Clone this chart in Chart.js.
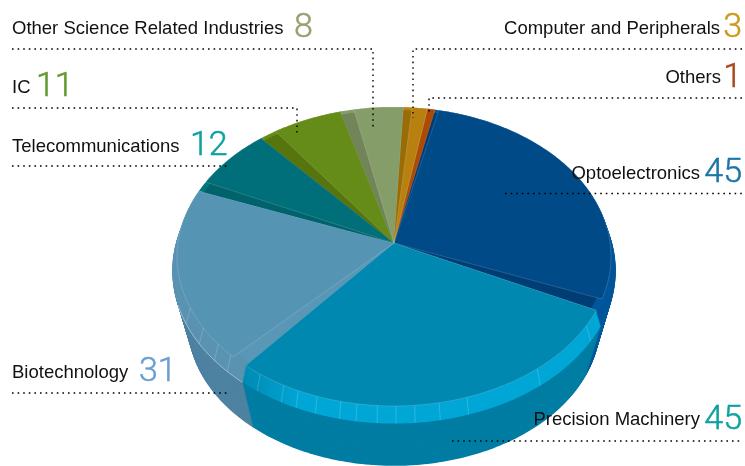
<!DOCTYPE html>
<html lang="en">
<head>
    <meta charset="UTF-8">
    <title>Industries</title>
    <script src="https://cdn.jsdelivr.net/npm/chart.js"></script>
    <style>
        body { margin: 0; background: #fff; }
        canvas { display: block; }
    </style>
</head>
<body>
    <canvas id="pie" width="745" height="466"></canvas>

    <script>
        // clockwise, starting just right of the top of the pie
        const categories = ['Others', 'Optoelectronics', 'Precision Machinery', 'Biotechnology',
            'Telecommunications', 'IC', 'Other Science Related Industries', 'Computer and Peripherals'];
        const values = [1, 45, 45, 31, 12, 11, 8, 3];

        const faceColors = ['#ad4a05', '#004a87', '#0088b0', '#5694b3', '#006f7a', '#658c18', '#859d69', '#b8800f'];
        const edgeColors = ['#a04404', '#003d75', '#0088b0', '#5a97b6', '#00636c', '#56750f', '#72845a', '#9a6c08'];
        const bandColors = ['#c05208', '#00569a', '#00a6d6', '#5a93b2', '#00757f', '#658c18', '#859d69', '#b8800f'];
        const wallColors = ['#a04404', '#005a9c', '#007da3', '#4d82a1', '#00636c', '#56750f', '#72845a', '#9a6c08'];
        const numberColors = ['#a8481c', '#1b75a8', '#11a0a0', '#6b9fd1', '#0fa0a0', '#639a2d', '#98a070', '#cc9a1a'];

        // how many degrees of each slice show as a side wall instead of top face
        const wallAtStart = [0, 1, 0, 4.4, 4, 5, 4, 2.5];
        const wallAtEnd = [0, 4.4, 0, 0, 0, 0, 0, 0];

        // facet lines on the bevel, degrees clockwise from the top
        const rimTicks = [122, 142, 162, 169, 175, 179.5, 184, 189, 193, 199, 204, 208, 215, 225, 230, 237, 245];

        // label text x / baseline, number x / baseline
        const labelLayout = [
            { x: 721, y: 83, align: 'right', nx: 742, ny: 87 },
            { x: 700, y: 179, align: 'right', nx: 742, ny: 182 },
            { x: 700, y: 425, align: 'right', nx: 742, ny: 429 },
            { x: 12, y: 378, align: 'left', nx: 139, ny: 381 },
            { x: 12, y: 152, align: 'left', nx: 190, ny: 155 },
            { x: 12, y: 93, align: 'left', nx: 36, ny: 96 },
            { x: 12, y: 34, align: 'left', nx: 294, ny: 37 },
            { x: 720, y: 34, align: 'right', nx: 742, ny: 37 }
        ];
        const leaders = [
            [[12, 49], [373, 49], [373, 128]],
            [[742, 49], [413, 49], [413, 118]],
            [[742, 98], [429, 98], [429, 115]],
            [[12, 108], [297, 108], [297, 136]],
            [[12, 166], [229, 166]],
            [[505, 193.5], [742, 193.5]],
            [[452, 441], [742, 441]],
            [[12, 393], [229, 393]]
        ];

        // perspective of the tilted disc
        const scaleX = 0.969, scaleY = 0.665, persp = 0.09;
        const rimScale = 1.022, rimDrop = 14, baseScale = 0.95, baseDrop = 68;
        const rad = Math.PI / 180;

        function project(arc, a, k, s, dy) {
            const u = Math.cos(a) * k, v = Math.sin(a) * k, w = 1 - persp * v;
            return [arc.x + s * arc.outerRadius * scaleX * u / w,
                arc.y + dy + s * arc.outerRadius * scaleY * v / w];
        }

        function wedgePath(ctx, arc, from, to, k, s, dy) {
            ctx.beginPath();
            ctx.moveTo(arc.x, arc.y + dy);
            const steps = Math.max(2, Math.ceil((to - from) / rad));
            for (let i = 0; i <= steps; i++) {
                const p = project(arc, from + (to - from) * i / steps, k, s, dy);
                ctx.lineTo(p[0], p[1]);
            }
            ctx.closePath();
        }

        const pie3d = {
            id: 'pie3d',
            beforeDatasetsDraw(chart) {
                const ctx = chart.ctx, arcs = chart.getDatasetMeta(0).data;
                ctx.save();

                // body of the pie, lowest layer first
                for (let i = 54; i >= 0; i--) {
                    const t = i / 54;
                    const s = rimScale + (baseScale - rimScale) * t, dy = rimDrop + (baseDrop - rimDrop) * t;
                    arcs.forEach((arc, n) => {
                        ctx.fillStyle = wallColors[n];
                        wedgePath(ctx, arc, arc.startAngle, arc.endAngle + 0.004, 1, s, dy);
                        ctx.fill();
                    });
                }

                // lighter bevel between the wall and the top face
                const fade = ctx.createLinearGradient(240, 0, 300, 0);
                fade.addColorStop(0, faceColors[2]);
                fade.addColorStop(1, bandColors[2]);
                for (let i = 14; i >= 0; i--) {
                    const t = i / 14;
                    arcs.forEach((arc, n) => {
                        ctx.fillStyle = n === 2 ? fade : bandColors[n];
                        wedgePath(ctx, arc, arc.startAngle, arc.endAngle + 0.004, 1, 1 + (rimScale - 1) * t, rimDrop * t);
                        ctx.fill();
                    });
                }
                const hub = arcs[0];
                ctx.strokeStyle = 'rgba(255,255,255,0.25)';
                ctx.lineWidth = 0.7;
                rimTicks.forEach(deg => {
                    const a = (deg - 90) * rad;
                    const p = project(hub, a, 1, 1, 0), q = project(hub, a, 1, rimScale, rimDrop);
                    ctx.beginPath();
                    ctx.moveTo(p[0], p[1]);
                    ctx.lineTo(q[0], q[1]);
                    ctx.stroke();
                });
                // thin light line on the lower edge of the bevel, biotechnology slice
                const bio = arcs[3];
                ctx.strokeStyle = 'rgba(255,255,255,0.6)';
                ctx.beginPath();
                for (let d = 0; d <= 30; d++) {
                    const p = project(bio, bio.startAngle + (bio.endAngle - bio.startAngle) * 0.45 * d / 30, 1, rimScale, rimDrop);
                    d ? ctx.lineTo(p[0], p[1]) : ctx.moveTo(p[0], p[1]);
                }
                ctx.stroke();

                // top faces
                arcs.forEach((arc, n) => {
                    ctx.fillStyle = edgeColors[n];
                    wedgePath(ctx, arc, arc.startAngle, arc.endAngle, 0.975, 1, 0);
                    ctx.fill();
                    ctx.fillStyle = arc.options.backgroundColor;
                    wedgePath(ctx, arc, arc.startAngle + wallAtStart[n] * rad, arc.endAngle - wallAtEnd[n] * rad, 1, 1, 0);
                    ctx.fill();
                    ctx.strokeStyle = 'rgba(255,255,255,0.25)';
                    ctx.lineWidth = 0.6;
                    ctx.stroke();
                });
                ctx.restore();
                return false;
            },
            afterDraw(chart) {
                const ctx = chart.ctx;
                ctx.save();

                ctx.strokeStyle = '#000';
                ctx.lineWidth = 1.4;
                ctx.setLineDash([1.6, 4]);
                leaders.forEach(line => {
                    ctx.beginPath();
                    line.forEach((p, i) => i ? ctx.lineTo(p[0], p[1]) : ctx.moveTo(p[0], p[1]));
                    ctx.stroke();
                });

                ctx.setLineDash([]);
                categories.forEach((name, n) => {
                    const l = labelLayout[n];
                    ctx.textBaseline = 'alphabetic';
                    ctx.textAlign = l.align;
                    ctx.fillStyle = '#111';
                    ctx.font = '18.5px "Liberation Sans"';
                    ctx.fillText(name, l.x, l.y);
                    // Roboto Light with a hair of stroke is closest to the light numerals
                    ctx.fillStyle = ctx.strokeStyle = numberColors[n];
                    ctx.lineWidth = 0.5;
                    ctx.font = '300 34px Roboto';
                    ctx.fillText(String(values[n]), l.nx, l.ny);
                    ctx.strokeText(String(values[n]), l.nx, l.ny);
                });
                ctx.restore();
            }
        };

        new Chart(document.getElementById('pie'), {
            type: 'pie',
            data: {
                labels: categories,
                datasets: [{ data: values, backgroundColor: faceColors, borderWidth: 0 }]
            },
            options: {
                responsive: false,
                animation: false,
                rotation: 9.7,
                layout: { padding: { left: 43, top: 20 } },
                plugins: { legend: { display: false }, tooltip: { enabled: false } }
            },
            plugins: [pie3d]
        });
    </script>
</body>
</html>
